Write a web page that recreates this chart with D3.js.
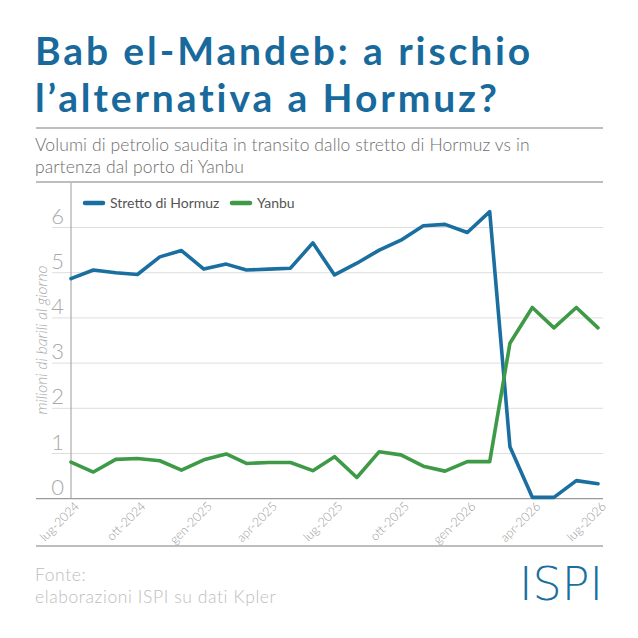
<!DOCTYPE html>
<html>
<head>
<meta charset="utf-8">
<script src="https://d3js.org/d3.v7.min.js"></script>
<style>
    body { margin: 0; background: #fff; }
    svg { display: block; font-family: "Lato", "Open Sans", sans-serif; }
</style>
</head>
<body>
<div id="chart"></div>
<script>
// months, lug-2024 .. lug-2026
var months = ["2024-07","2024-08","2024-09","2024-10","2024-11","2024-12",
              "2025-01","2025-02","2025-03","2025-04","2025-05","2025-06",
              "2025-07","2025-08","2025-09","2025-10","2025-11","2025-12",
              "2026-01","2026-02","2026-03","2026-04","2026-05","2026-06","2026-07"];
var hormuz = [4.87, 5.06, 5.00, 4.96, 5.35, 5.49, 5.08, 5.19, 5.06, 5.08, 5.10, 5.66,
              4.95, 5.21, 5.50, 5.72, 6.04, 6.07, 5.89, 6.35, 1.15, 0.03, 0.03, 0.40, 0.33];
var yanbu  = [0.81, 0.59, 0.87, 0.89, 0.84, 0.63, 0.86, 0.99, 0.78, 0.80, 0.80, 0.62,
              0.93, 0.47, 1.04, 0.97, 0.72, 0.61, 0.82, 0.82, 3.44, 4.23, 3.78, 4.23, 3.78];
var seriesNames = ["Stretto di Hormuz", "Yanbu"];
var seriesColors = ["#1a6fa0", "#3f9a48"];
var yTicks = [0, 1, 2, 3, 4, 5, 6];
var xTicks = ["2024-07","2024-10","2025-01","2025-04","2025-07","2025-10","2026-01","2026-04","2026-07"];
var monthNames = ["gen","feb","mar","apr","mag","giu","lug","ago","set","ott","nov","dic"];

var W = 638, H = 638;
var svg = d3.select("#chart").append("svg").attr("width", W).attr("height", H);

var parse = d3.timeParse("%Y-%m");
var dates = months.map(parse);

var x = d3.scaleTime().domain(d3.extent(dates)).range([71, 598]);
var y = d3.scaleLinear().domain([0, 6]).range([498.7, 227.5]);

// title, two separate lines
["Bab el-Mandeb: a rischio", "l\u2019alternativa a Hormuz?"].forEach(function(t, i){
    svg.append("text")
        .attr("x", 35).attr("y", 65 + i * 47)
        .attr("fill", "#18699c")
        .style("font-weight", 700)
        .style("font-size", "39px")
        .style("letter-spacing", "2.9px")
        .text(t);
});

// separators
[128, 182, 546].forEach(function(yy){
    svg.append("line").attr("x1", 36).attr("x2", 603).attr("y1", yy).attr("y2", yy)
        .attr("stroke", "#a8a8a8").attr("stroke-width", 1.3);
});

var sub = svg.append("text").attr("fill", "#6e6e6e")
    .style("font-weight", 300).style("font-size", "17.5px")
    .style("letter-spacing", "0.1px");
sub.append("tspan").attr("x", 35).attr("y", 151)
    .text("Volumi di petrolio saudita in transito dallo stretto di Hormuz vs in");
sub.append("tspan").attr("x", 35).attr("y", 173)
    .text("partenza dal porto di Yanbu");

// grid
svg.append("g").selectAll("line").data(yTicks.filter(function(d){ return d > 0; }))
    .join("line")
    .attr("x1", 52).attr("x2", 603)
    .attr("y1", function(d){ return y(d); }).attr("y2", function(d){ return y(d); })
    .attr("stroke", "#dedede").attr("stroke-width", 1);

svg.append("g").selectAll("text").data(yTicks).join("text")
    .attr("x", 64).attr("y", function(d){ return y(d) - 4; })
    .attr("text-anchor", "end")
    .attr("fill", "#a9a9a9")
    .style("font-weight", 300).style("font-size", "22px")
    .text(function(d){ return d; });

// axes lines
svg.append("line").attr("x1", 71).attr("x2", 71).attr("y1", 183).attr("y2", 499)
    .attr("stroke", "#9a9a9a").attr("stroke-width", 1);
svg.append("line").attr("x1", 36).attr("x2", 603).attr("y1", y(0)).attr("y2", y(0))
    .attr("stroke", "#9a9a9a").attr("stroke-width", 1.2);

// y title
svg.append("text")
    .attr("transform", "translate(47,340) rotate(-90)")
    .attr("text-anchor", "middle")
    .attr("fill", "#ababab")
    .style("font-style", "italic").style("font-weight", 300).style("font-size", "15.5px")
    .text("milioni di barili al giorno");

// x labels
svg.append("g").selectAll("text").data(xTicks.map(parse)).join("text")
    .attr("transform", function(d){ return "translate(" + (x(d) + 9) + ",507) rotate(-45)"; })
    .attr("text-anchor", "end")
    .attr("fill", "#999")
    .style("font-weight", 300).style("font-size", "12.5px")
    .text(function(d){ return monthNames[d.getMonth()] + "-" + d.getFullYear(); });

// lines
var line = d3.line()
    .x(function(d, i){ return x(dates[i]); })
    .y(function(d){ return y(d); });

[hormuz, yanbu].forEach(function(s, k){
    svg.append("path").datum(s)
        .attr("d", line)
        .attr("fill", "none")
        .attr("stroke", seriesColors[k])
        .attr("stroke-width", 3.6)
        .attr("stroke-linejoin", "round")
        .attr("stroke-linecap", "round");
});

// legend
var legX = [85, 232];
seriesNames.forEach(function(n, k){
    svg.append("line").attr("x1", legX[k]).attr("x2", legX[k] + 18)
        .attr("y1", 203).attr("y2", 203)
        .attr("stroke", seriesColors[k]).attr("stroke-width", 4.5)
        .attr("stroke-linecap", "round");
    svg.append("text").attr("x", legX[k] + 25).attr("y", 208)
        .attr("fill", "#555")
        .style("font-size", "14px")
        .text(n);
});

// footer
var foot = svg.append("text").attr("fill", "#bdbdbd")
    .style("font-weight", 300).style("font-size", "17.5px")
    .style("letter-spacing", "0.6px");
foot.append("tspan").attr("x", 35).attr("y", 581).text("Fonte:");
foot.append("tspan").attr("x", 35).attr("y", 603).text("elaborazioni ISPI su dati Kpler");

svg.append("text").attr("x", 603).attr("y", 600)
    .attr("text-anchor", "end")
    .attr("fill", "#1a6fa0")
    .style("font-family", "'DejaVu Sans', sans-serif")
    .style("font-weight", 300).style("font-size", "46px")
    .text("ISPI");
</script>
</body>
</html>
